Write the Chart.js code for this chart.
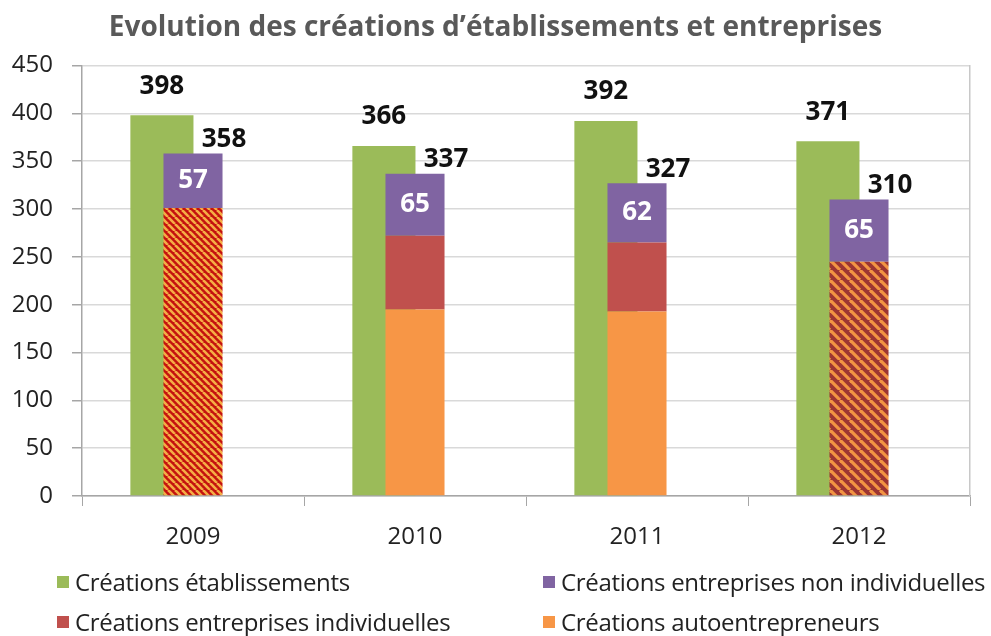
<!DOCTYPE html>
<html>
<head>
<meta charset="utf-8">
<script src="https://cdn.jsdelivr.net/npm/chart.js@4"></script>
<style>
  html, body { margin: 0; padding: 0; background: #fff; }
  #wrap { position: relative; width: 991px; height: 636px; }
  #legend {
    position: absolute; left: 57px; top: 565px; width: 934px;
    display: grid; grid-template-columns: 486px 448px; row-gap: 7px;
    font-family: "Open Sans", sans-serif; font-size: 24px; line-height: 33px; color: #222;
  }
  #legend div { display: flex; align-items: center; white-space: nowrap; letter-spacing: -0.3px; }
  #legend span { display: inline-block; width: 12px; height: 12px; margin-right: 6px; }
</style>
</head>
<body>
<div id="wrap">
  <canvas id="myChart" width="991" height="636"></canvas>
  <div id="legend"></div>
</div>
<script>
// ============================================
// DATA
// ============================================

const years = ['2009', '2010', '2011', '2012'];

const etablissements = [398, 366, 392, 371];
const autoentrepreneurs = [null, 195, 193, null];
const individuelles = [301, 77, 72, 245];
const nonIndividuelles = [57, 65, 62, 65];

const yTicks = [0, 50, 100, 150, 200, 250, 300, 350, 400, 450];

// ============================================
// HATCHED FILLS (2009 / 2012 : individuelles + auto not split)
// ============================================

function stripes(bg, fg, size, width) {
    const c = document.createElement('canvas');
    c.width = size;
    c.height = size;
    const g = c.getContext('2d');
    g.fillStyle = bg;
    g.fillRect(0, 0, size, size);
    g.strokeStyle = fg;
    g.lineWidth = width;
    for (let k = -1; k <= 1; k++) {
        g.beginPath();
        g.moveTo(k * size, 0);
        g.lineTo(k * size + size, size);
        g.stroke();
    }
    return g.createPattern(c, 'repeat');
}

const hatch2009 = stripes('#c4120f', '#f5ad45', 7, 2.6);
const hatch2012 = stripes('#9c3532', '#f29443', 10, 3.2);

const indivColors = ['#c0504d', '#c0504d', '#c0504d', '#c0504d'];
indivColors[0] = hatch2009;
indivColors[3] = hatch2012;

// ============================================
// DRAW GREEN BARS FIRST (behind the stacked bars)
// ============================================

const greenBehind = {
    id: 'greenBehind',
    beforeDatasetsDraw(chart) {
        chart.getDatasetMeta(0).controller.draw();
    },
    beforeDatasetDraw(chart, args) {
        if (args.index === 0) return false;
    }
};

// ============================================
// VALUE LABELS
// ============================================

const valueLabels = {
    id: 'valueLabels',
    afterDatasetsDraw(chart) {
        const c = chart.ctx;
        c.save();
        c.textAlign = 'center';
        c.textBaseline = 'middle';
        c.font = 'bold 26px "Open Sans", sans-serif';

        chart.getDatasetMeta(0).data.forEach((bar, i) => {
            c.fillStyle = '#111';
            c.fillText(etablissements[i], bar.x, bar.y - 29);
        });

        chart.getDatasetMeta(3).data.forEach((bar, i) => {
            c.fillStyle = '#fff';
            c.fillText(nonIndividuelles[i], bar.x, (bar.y + bar.base) / 2);
            const total = (autoentrepreneurs[i] || 0) + individuelles[i] + nonIndividuelles[i];
            c.fillStyle = '#111';
            c.fillText(total, bar.x + 31, bar.y - 14);
        });
        c.restore();
    }
};

// ============================================
// CREATE CHART
// ============================================

const ctx = document.getElementById('myChart');

const slotPct = 0.42;

const chart = new Chart(ctx, {

    type: 'bar',

    data: {
        labels: years,
        datasets: [
            {
                label: 'Créations établissements',
                data: etablissements,
                backgroundColor: '#9bbb59',
                stack: 'g',
                categoryPercentage: slotPct,
                barPercentage: 2.03
            },
            {
                label: 'Créations autoentrepreneurs',
                data: autoentrepreneurs,
                backgroundColor: '#f79646',
                stack: 's',
                categoryPercentage: slotPct,
                barPercentage: 1.9
            },
            {
                label: 'Créations entreprises individuelles',
                data: individuelles,
                backgroundColor: indivColors,
                legendColor: '#c0504d',
                stack: 's',
                categoryPercentage: slotPct,
                barPercentage: 1.9
            },
            {
                label: 'Créations entreprises non individuelles',
                data: nonIndividuelles,
                backgroundColor: '#8064a2',
                stack: 's',
                categoryPercentage: slotPct,
                barPercentage: 1.9
            },
            {
                // empty third slot so the stacked bar sits on the category centre
                label: '',
                data: [null, null, null, null],
                stack: 'd',
                categoryPercentage: slotPct,
                barPercentage: 1
            }
        ]
    },

    options: {
        responsive: false,
        animation: false,
        plugins: {
            legend: { display: false },
            tooltip: { enabled: false },
            title: {
                display: true,
                text: 'Evolution des créations d’établissements et entreprises',
                color: '#595959',
                font: { family: 'Open Sans', size: 28, weight: 'bold' },
                padding: { top: 11, bottom: 21 }
            }
        },
        scales: {
            x: {
                offset: true,
                grid: {
                    offset: true,
                    drawOnChartArea: false,
                    color: '#a6a6a6',
                    tickLength: 10
                },
                border: { color: '#a6a6a6', width: 1.5 },
                ticks: {
                    color: '#222',
                    padding: 17,
                    font: { family: 'Open Sans', size: 24 }
                },
                afterFit(scale) { scale.height = 140; }
            },
            y: {
                stacked: true,
                min: 0,
                max: 450,
                afterBuildTicks(scale) {
                    scale.ticks = yTicks.map(v => ({ value: v }));
                },
                grid: {
                    color: '#d9d9d9',
                    lineWidth: 1.5,
                    tickColor: '#a6a6a6',
                    tickLength: 10
                },
                border: { color: '#a6a6a6', width: 1.5 },
                ticks: {
                    color: '#222',
                    padding: 19,
                    font: { family: 'Open Sans', size: 24 }
                },
                afterFit(scale) { scale.width = 82; }
            },
            yR: {
                position: 'right',
                min: 0,
                max: 450,
                grid: { display: false },
                ticks: { display: false },
                border: { color: '#c8c8c8', width: 1.5 },
                afterFit(scale) { scale.width = 21; }
            }
        }
    },

    plugins: [greenBehind, valueLabels]
});

// ============================================
// LEGEND (two columns like the original)
// ============================================

const legendOrder = [0, 3, 2, 1];
const legendBox = document.getElementById('legend');
legendOrder.forEach(i => {
    const ds = chart.data.datasets[i];
    const item = document.createElement('div');
    const sw = document.createElement('span');
    sw.style.background = ds.legendColor || ds.backgroundColor;
    item.appendChild(sw);
    item.appendChild(document.createTextNode(ds.label));
    legendBox.appendChild(item);
});
</script>
</body>
</html>
